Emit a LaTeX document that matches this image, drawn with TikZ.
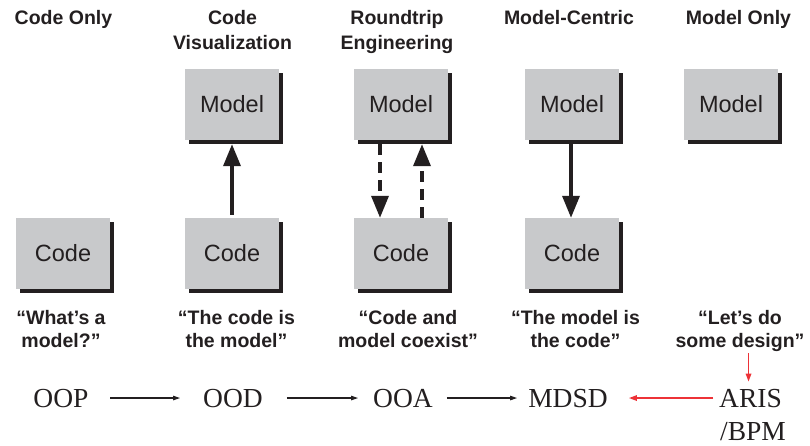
\documentclass[tikz,border=0pt]{standalone}
\usepackage{fontspec}
\setmainfont{Liberation Sans}
\newfontfamily\timesf{Liberation Serif}
\usetikzlibrary{arrows.meta,backgrounds}
\definecolor{boxgray}{RGB}{200,201,203}
\definecolor{ink}{RGB}{35,31,32}
\definecolor{redarr}{RGB}{237,50,55}
\begin{document}
\begin{tikzpicture}[x=1pt,y=-1pt,
  box/.style={fill=boxgray, minimum width=94pt, minimum height=71pt, inner sep=0pt,
    text=ink, font=\fontsize{23.5}{28}\selectfont},
  shadowfill/.style={fill=ink},
  head/.style={anchor=north, inner sep=0pt, align=center, text=ink,
    font=\fontsize{19.5}{25}\selectfont\bfseries},
  quote/.style={anchor=north, inner sep=0pt, align=center, text=ink,
    font=\fontsize{19.5}{23.5}\selectfont\bfseries},
  term/.style={anchor=base, inner sep=0pt, text=ink,
    font=\fontsize{27.5}{33}\selectfont\timesf},
  bigarrow/.style={draw=ink, line width=3.5pt, -{Triangle[length=22pt,width=17pt]}},
  dasharrow/.style={bigarrow, dash pattern=on 11pt off 7pt},
  smallarrow/.style={draw=ink, line width=1.1pt, -{Triangle[length=7pt,width=4.5pt]}},
  redarrow/.style={draw=redarr, line width=1.5pt, -{Triangle[length=8pt,width=5.5pt]}}
]
\useasboundingbox (0,0) rectangle (810,446);

% headers
\node[head] (h1) at (63.5,10) {Code Only};
\node[head] (h2) at (232.5,10) {Code\\Visualization};
\node[head] (h3) at (397,10) {Roundtrip\\Engineering};
\node[head] (h4) at (569,10) {Model-Centric};
\node[head] (h5) at (738.5,10) {Model Only};

% model boxes
\node[box] (m2) at (232,104.5) {Model};
\node[box] (m3) at (401,104.5) {Model};
\node[box] (m4) at (572,104.5) {Model};
\node[box] (m5) at (731,104.5) {Model};

% code boxes
\node[box] (c1) at (63,253.5) {Code};
\node[box] (c2) at (232,253.5) {Code};
\node[box] (c3) at (401,253.5) {Code};
\node[box] (c4) at (572,253.5) {Code};

% background and shadows behind boxes
\begin{pgfonlayer}{background}
\fill[white] (0,0) rectangle (810,446);
\foreach \b in {m2,m3,m4,m5,c1,c2,c3,c4}
  \fill[shadowfill] ([xshift=4pt,yshift=-4pt]\b.south west) rectangle ([xshift=4pt,yshift=-4pt]\b.north east);
\end{pgfonlayer}

% vertical arrows
\draw[bigarrow] ([yshift=3pt]c2.north) -- ([yshift=-4pt]m2.south);
\draw[dasharrow] ([xshift=-21pt,yshift=-4pt]m3.south) -- ([xshift=-21pt]c3.north);
\draw[dasharrow] ([xshift=21pt]c3.north) -- ([xshift=21pt,yshift=-4pt]m3.south);
\draw[bigarrow] ([xshift=-1pt,yshift=-4pt]m4.south) -- ([xshift=-1pt]c4.north);

% quotes
\node[quote] (q1) at (61,310) {“What’s a\\model?”};
\node[quote] (q2) at (236.5,310) {“The code is\\the model”};
\node[quote] (q3) at (408,310) {“Code and\\model coexist”};
\node[quote] (q4) at (575.5,310) {“The model is\\the code”};
\node[quote] (q5) at (740,310) {“Let’s do\\some design”};

% bottom terms
\node[term] (oop) at (61,407) {OOP};
\node[term] (ood) at (233,407) {OOD};
\node[term] (ooa) at (403,407) {OOA};
\node[term] (mdsd) at (568,407) {MDSD};
\node[term, anchor=base west] (aris) at (719,407) {ARIS};
\node[term, anchor=base west] (bpm) at (720,440) {/BPM};

\draw[smallarrow, shorten <=21.5pt, shorten >=23pt] (oop.east) -- (ood.west);
\draw[smallarrow, shorten <=24pt, shorten >=15pt] (ood.east) -- (ooa.west);
\draw[smallarrow, shorten <=14pt, shorten >=11pt] (ooa.east) -- (mdsd.west);
\draw[redarrow, shorten <=6pt, shorten >=21pt] (aris.west) -- (mdsd.east);
\draw[redarrow, shorten <=1pt, shorten >=7pt] ([xshift=-2pt]q5.south -| aris.north) -- ([xshift=-2pt]aris.north);
\end{tikzpicture}
\end{document}
